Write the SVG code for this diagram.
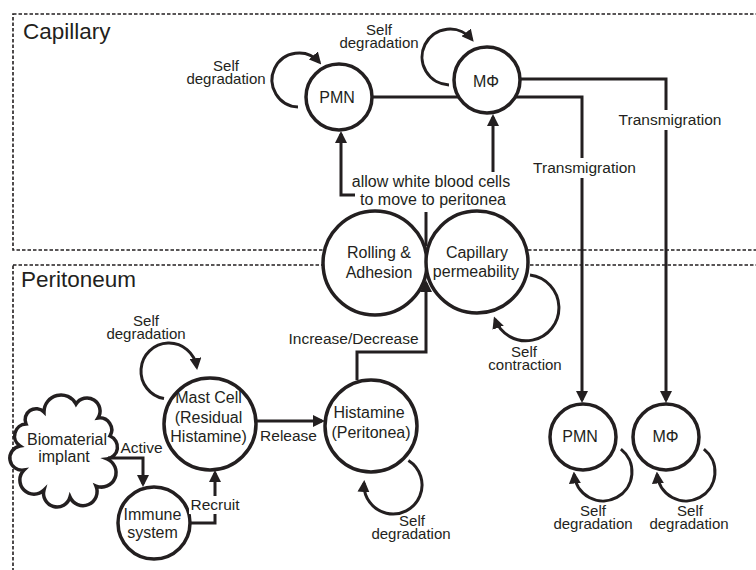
<svg xmlns="http://www.w3.org/2000/svg" width="756" height="570" viewBox="0 0 756 570">
<defs>
<style>
.box{fill:none;stroke:#231f20;stroke-width:1.6;stroke-dasharray:3.5 2}
.nd{fill:#fff;stroke:#231f20;stroke-width:3.5}
.c{fill:none;stroke:#231f20;stroke-width:3}
.ca{fill:none;stroke:#231f20;stroke-width:3;marker-end:url(#ah)}
text{font-family:"Liberation Sans",Arial,sans-serif;fill:#231f20;text-anchor:middle}
.n{font-size:16px}
.l{font-size:15.5px}
.s{font-size:15px}
.h{font-size:22.5px;text-anchor:start}
</style>
<marker id="ah" viewBox="0 0 12 12" refX="9" refY="6" markerWidth="12" markerHeight="12" markerUnits="userSpaceOnUse" orient="auto"><path d="M0,0 L12,6 L0,12 z" fill="#231f20"/></marker>
</defs>
<rect width="756" height="570" fill="#fff"/>
<g id="regions">
<rect class="box" x="13" y="14" width="760" height="236"/>
<rect class="box" x="13" y="265" width="760" height="320"/>
<text class="h" x="23" y="39">Capillary</text>
<text class="h" x="21" y="287">Peritoneum</text>
</g>
<g id="cap_pmn"><circle class="nd" cx="339" cy="97" r="33"/><text class="n" x="337" y="103">PMN</text></g>
<g id="cap_mphi"><circle class="nd" cx="487" cy="80" r="33"/><text class="n" x="486" y="87">MΦ</text></g>
<g id="rolling"><circle class="nd" cx="375" cy="263" r="52"/><text class="n" x="379" y="258">Rolling &amp;</text><text class="n" x="379" y="278">Adhesion</text></g>
<g id="permeability"><circle class="nd" cx="477" cy="262" r="51"/><text class="n" x="477" y="258">Capillary</text><text class="n" x="476" y="277">permeability</text></g>
<g id="histamine"><circle class="nd" cx="371" cy="426" r="46"/><text class="n" x="369" y="418">Histamine</text><text class="n" x="371" y="438">(Peritonea)</text></g>
<g id="mast"><circle class="nd" cx="210" cy="424" r="46"/><text class="n" x="208.5" y="403">Mast Cell</text><text class="n" x="208.5" y="423">(Residual</text><text class="n" x="208.5" y="442">Histamine)</text></g>
<g id="immune"><circle class="nd" cx="154" cy="523" r="36"/><text class="n" x="152.5" y="520">Immune</text><text class="n" x="152.5" y="538">system</text></g>
<g id="implant"><path class="nd" d="M26 424 A11 11 0 0 1 44 412 A17 17 0 0 1 76 404 A13 13 0 0 1 98 418 A12 12 0 0 1 110 436 A12 12 0 0 1 107 459 A13 13 0 0 1 96 486 A14 14 0 0 1 70 497 A13 13 0 0 1 44 490 A12 12 0 0 1 24 470 A12 12 0 0 1 20 446 A12 12 0 0 1 26 424 Z"/><text class="n" x="67" y="445">Biomaterial</text><text class="n" x="64" y="462">implant</text></g>
<g id="per_pmn"><circle class="nd" cx="583" cy="437" r="33"/><text class="n" x="580" y="442">PMN</text></g>
<g id="per_mphi"><circle class="nd" cx="666" cy="437" r="33"/><text class="n" x="665.5" y="442">MΦ</text></g>
<g id="connectors">
<path class="ca" d="M355 195 L341 195 L341 134"/>
<path class="ca" d="M493 172 L493 117"/>
<path class="c" d="M426 212 L426 246"/>
<path class="ca" d="M372 97 L458 97 M516 97 L582 97 L582 400"/>
<path class="ca" d="M520 79 L666 79 L666 400"/>
<path class="ca" d="M357 380 L357 352 L426 352 L426 283"/>
<path class="ca" d="M108 458 L143 458 L143 484"/>
<path class="ca" d="M190 523 L215 523 L215 473"/>
<path class="ca" d="M256 421 L322 421"/>
<path class="ca" d="M298 107 A27 27 0 1 1 319.3 62.2"/>
<path class="ca" d="M449 85 A28 28 0 1 1 471.8 39.4"/>
<path class="ca" d="M164 398.6 A28 28 0 1 1 196.7 367.1"/>
<path class="ca" d="M408.4 460.4 A29 29 0 1 1 364.1 483"/>
<path class="ca" d="M530 275 A33 33 0 1 1 495 319.3"/>
<path class="ca" d="M620.9 449.1 A29 29 0 1 1 574.1 474.5"/>
<path class="ca" d="M703.9 449.1 A29 29 0 1 1 657.1 474.5"/>
<rect x="530" y="158" width="109" height="20" fill="#fff"/>
<text class="l" x="584.5" y="173">Transmigration</text>
<rect x="616" y="110" width="108" height="20" fill="#fff"/>
<text class="l" x="670" y="125">Transmigration</text>
<text class="n" x="431" y="187">allow white blood cells</text>
<text class="n" x="433" y="205">to move to peritonea</text>
<text class="l" x="353.5" y="344">Increase/Decrease</text>
<text class="l" x="288.5" y="441">Release</text>
<text class="l" x="141.5" y="453">Active</text>
<rect x="189" y="496" width="53" height="18" fill="#fff"/>
<text class="l" x="215" y="510">Recruit</text>
<text class="s" x="226" y="71">Self</text><text class="s" x="226" y="83.5">degradation</text>
<text class="s" x="379" y="35">Self</text><text class="s" x="379" y="47.5">degradation</text>
<text class="s" x="146" y="326">Self</text><text class="s" x="146" y="338.5">degradation</text>
<text class="s" x="412" y="526">Self</text><text class="s" x="411" y="538.5">degradation</text>
<text class="s" x="524" y="357">Self</text><text class="s" x="525" y="369.5">contraction</text>
<text class="s" x="593" y="516">Self</text><text class="s" x="593" y="528.5">degradation</text>
<text class="s" x="690" y="516">Self</text><text class="s" x="689" y="528.5">degradation</text>
</g>
</svg>
